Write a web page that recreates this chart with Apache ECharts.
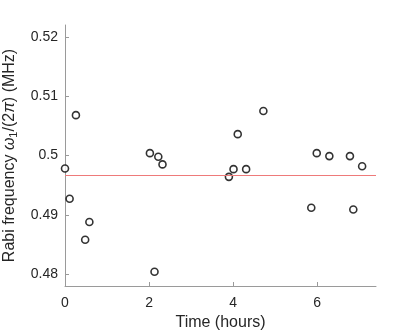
<!DOCTYPE html>
<html>
<head>
<meta charset="utf-8">
<script src="https://cdn.jsdelivr.net/npm/echarts@6/dist/echarts.min.js"></script>
<style>
  html, body { margin: 0; padding: 0; background: #fff; }
  #chart { width: 415px; height: 332px; }
</style>
</head>
<body>
<div id="chart"></div>
<script>
// time (hours) and measured Rabi frequency (MHz)
const timeHours = [0.00, 0.11, 0.26, 0.48, 0.58, 2.02, 2.13, 2.22, 2.32, 3.90,
                   4.01, 4.11, 4.31, 4.72, 5.86, 5.99, 6.29, 6.78, 6.86, 7.07]
const rabiFreq = [0.4978, 0.4927, 0.5068, 0.4858, 0.4888, 0.5004, 0.4804, 0.4998, 0.4985, 0.4964,
                  0.4977, 0.5036, 0.4977, 0.5075, 0.4912, 0.5004, 0.4999, 0.4999, 0.4909, 0.4982]
const meanLine = 0.4966
const xTicks = [0, 2, 4, 6]
const yTicks = [0.48, 0.49, 0.5, 0.51, 0.52]

const chart = echarts.init(document.getElementById('chart'))
const font = 'Arial, "Liberation Sans", sans-serif'
const axisGray = '#9a9a9a'
const txt = '#262626'

chart.setOption({
  animation: false,
  grid: { left: 65, right: 39, top: 25, bottom: 46, containLabel: false, outerBoundsMode: 'none' },
  xAxis: {
    type: 'value',
    min: 0,
    max: 7.4,
    name: 'Time (hours)',
    nameLocation: 'middle',
    nameGap: 27,
    nameTextStyle: { fontFamily: font, fontSize: 16, color: txt },
    axisLine: { lineStyle: { color: axisGray } },
    axisTick: { inside: true, length: 4, customValues: xTicks, lineStyle: { color: axisGray } },
    axisLabel: { customValues: xTicks, fontFamily: font, fontSize: 14, color: txt, margin: 10 },
    splitLine: { show: false }
  },
  yAxis: {
    type: 'value',
    min: 0.478,
    max: 0.522,
    name: 'Rabi frequency {i|ω}{s|1}/(2{i|π}) (MHz)',
    nameLocation: 'middle',
    nameGap: 40,
    nameTextStyle: {
      fontFamily: font, fontSize: 16, color: txt,
      rich: {
        i: { fontFamily: font, fontSize: 16, fontStyle: 'italic', color: txt },
        s: { fontFamily: font, fontSize: 11, color: txt, padding: [9, 0, 0, 0] }
      }
    },
    axisLine: { show: true, lineStyle: { color: axisGray } },
    axisTick: { show: true, inside: true, length: 4, customValues: yTicks, lineStyle: { color: axisGray } },
    axisLabel: {
      customValues: yTicks,
      fontFamily: font,
      fontSize: 14,
      color: txt,
      margin: 7,
      formatter: v => String(+v.toFixed(2))
    },
    splitLine: { show: false }
  },
  series: [
    {
      type: 'scatter',
      data: timeHours.map((t, i) => [t, rabiFreq[i]]),
      symbol: 'circle',
      symbolSize: 7,
      itemStyle: { color: '#fff', borderColor: '#000', borderWidth: 1.6 },
      markLine: {
        silent: true,
        symbol: 'none',
        precision: 4,
        label: { show: false },
        lineStyle: { color: '#ee7a7a', width: 1, type: 'solid' },
        data: [{ yAxis: meanLine }]
      }
    }
  ]
})
</script>
</body>
</html>
